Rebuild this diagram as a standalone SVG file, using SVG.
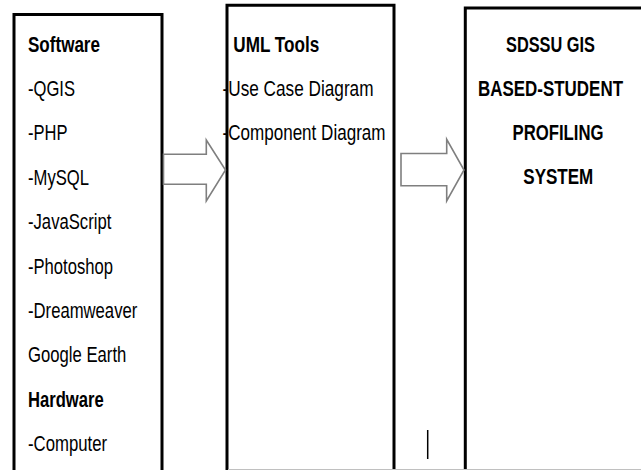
<svg xmlns="http://www.w3.org/2000/svg" width="641" height="470" viewBox="0 0 641 470">
  <style>
    .box { fill: #ffffff; stroke: #000000; stroke-width: 3; stroke-linejoin: miter; }
    .t { font-family: "Liberation Sans", Arial, sans-serif; font-size: 21.5px; fill: #000000; }
    .b { font-weight: bold; }
    .arrow { fill: #ffffff; stroke: #7f7f7f; stroke-width: 1.6; stroke-linejoin: miter; }
  </style>
  <rect width="641" height="470" fill="#ffffff"/>

  <g id="node-software">
    <path class="box" d="M14,472 V14.5 H162 V472"/>
    <text class="t b" x="28" y="51.5" textLength="72" lengthAdjust="spacingAndGlyphs">Software</text>
    <text class="t" x="28" y="95.9" textLength="47" lengthAdjust="spacingAndGlyphs">-QGIS</text>
    <text class="t" x="28" y="140.3" textLength="39.5" lengthAdjust="spacingAndGlyphs">-PHP</text>
    <text class="t" x="28" y="184.7" textLength="61" lengthAdjust="spacingAndGlyphs">-MySQL</text>
    <text class="t" x="28" y="229.1" textLength="83.3" lengthAdjust="spacingAndGlyphs">-JavaScript</text>
    <text class="t" x="28" y="273.5" textLength="85" lengthAdjust="spacingAndGlyphs">-Photoshop</text>
    <text class="t" x="28" y="317.9" textLength="109.3" lengthAdjust="spacingAndGlyphs">-Dreamweaver</text>
    <text class="t" x="28" y="362.3" textLength="98.3" lengthAdjust="spacingAndGlyphs">Google Earth</text>
    <text class="t b" x="28" y="406.7" textLength="75.7" lengthAdjust="spacingAndGlyphs">Hardware</text>
    <text class="t" x="28" y="451.1" textLength="79" lengthAdjust="spacingAndGlyphs">-Computer</text>
  </g>

  <g id="node-uml">
    <path class="box" d="M227,472 V5.3 H394 V472"/>
    <text class="t b" x="233.3" y="51.5" textLength="86" lengthAdjust="spacingAndGlyphs">UML Tools</text>
    <text class="t" x="222.5" y="95.9" textLength="151" lengthAdjust="spacingAndGlyphs">-Use Case Diagram</text>
    <text class="t" x="222.5" y="140.3" textLength="163" lengthAdjust="spacingAndGlyphs">-Component Diagram</text>
  </g>

  <g id="node-system">
    <path class="box" d="M465.3,472 V8 H643"/>
    <text class="t b" transform="translate(506,52) scale(0.777,1)" x="0" y="0" textLength="114.5" lengthAdjust="spacingAndGlyphs">SDSSU GIS</text>
    <text class="t b" transform="translate(478,96) scale(0.777,1)" x="0" y="0" textLength="186.6" lengthAdjust="spacingAndGlyphs">BASED-STUDENT</text>
    <text class="t b" transform="translate(512.5,140) scale(0.777,1)" x="0" y="0" textLength="117.1" lengthAdjust="spacingAndGlyphs">PROFILING</text>
    <text class="t b" transform="translate(523.3,184) scale(0.777,1)" x="0" y="0" textLength="90.1" lengthAdjust="spacingAndGlyphs">SYSTEM</text>
  </g>

  <g id="connectors">
    <polygon class="arrow" points="163.5,154.3 206.3,154.3 206.3,140 225.5,170 206.3,201 206.3,184.3 163.5,184.3"/>
    <polygon class="arrow" points="401,153.5 446.7,153.5 446.7,139.3 464,170 446.7,201 446.7,185.7 401,185.7"/>
  </g>

  <line x1="427.7" y1="430" x2="427.7" y2="459" stroke="#000000" stroke-width="1.5"/>
  <line x1="228" y1="469.5" x2="641" y2="469.5" stroke="#c0c0c0" stroke-width="1"/>
</svg>
